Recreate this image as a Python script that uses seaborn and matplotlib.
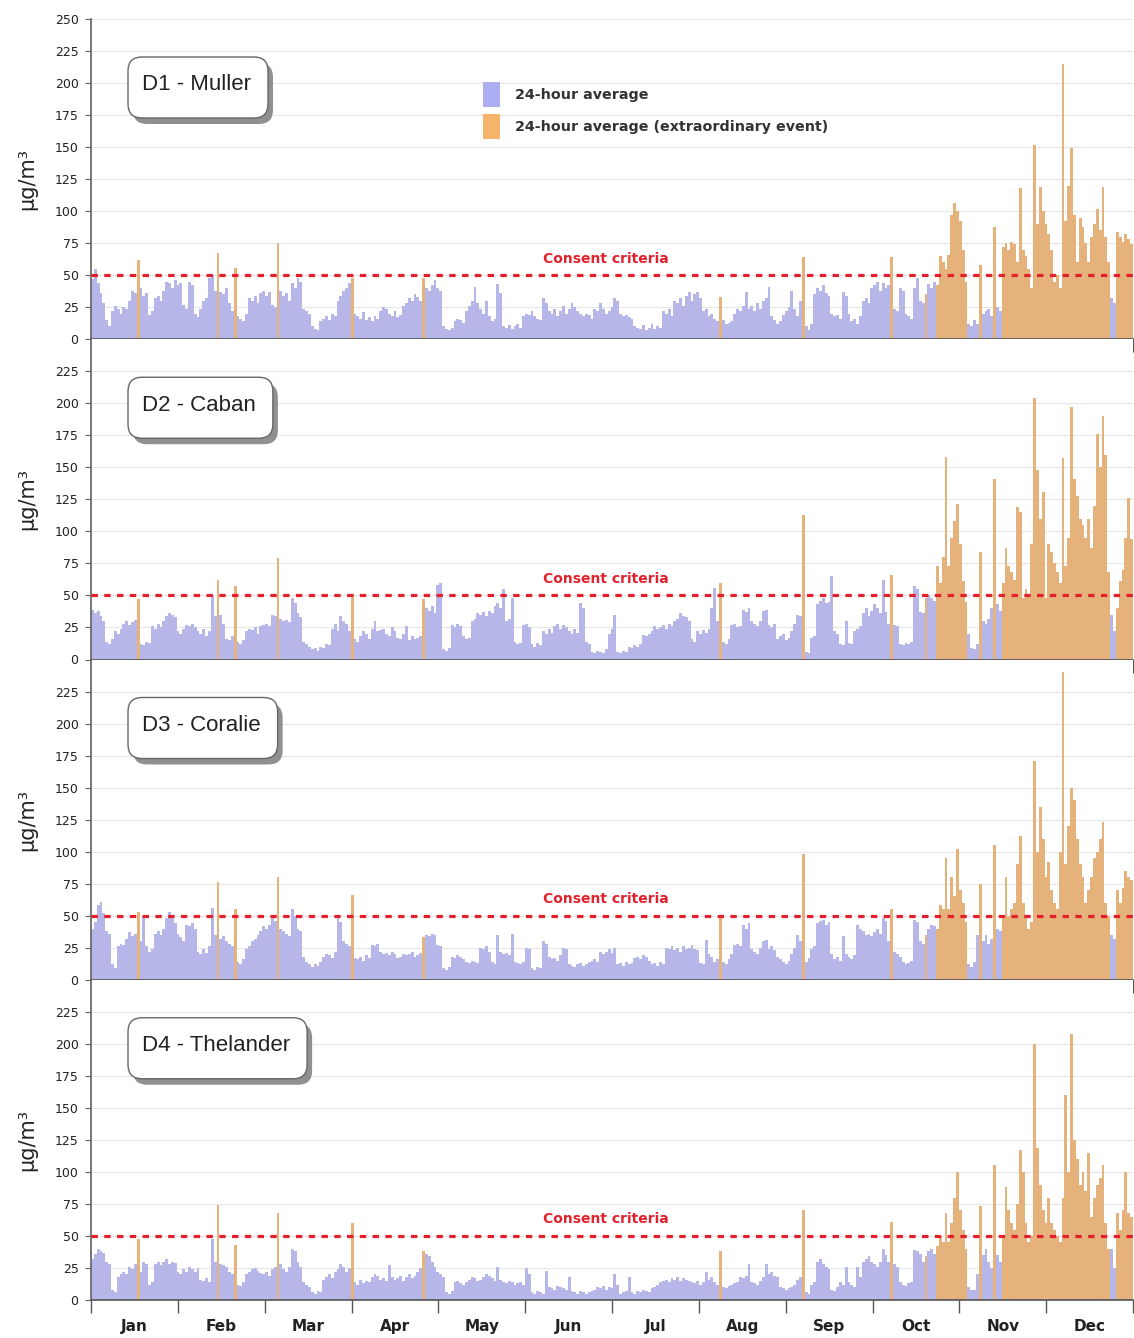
import numpy as np
import pandas as pd
import matplotlib
matplotlib.use("Agg")
import matplotlib.pyplot as plt
import seaborn as sns
from matplotlib.patches import FancyBboxPatch, Patch
from matplotlib.transforms import IdentityTransform

sns.set_theme(style="white")
plt.rcParams['font.family'] = ['DejaVu Sans']

W, H = 1134, 1338

months = ["Jan", "Feb", "Mar", "Apr", "May", "Jun",
          "Jul", "Aug", "Sep", "Oct", "Nov", "Dec"]
sites = ["D1 - Muller", "D2 - Caban", "D3 - Coralie", "D4 - Thelander"]
criteria = 50

# days (0 = 1 Jan) flagged as extraordinary event
event_days = ([16, 44, 50, 65, 91, 116, 220, 249, 280, 292]
              + list(range(296, 307)) + [311, 316]
              + list(range(319, 357)) + list(range(359, 365)))

# daily 24-hour averages, ug/m3, 10 days per row
d1_muller = [
    47, 55, 44, 36, 28, 15, 10, 22, 26, 24,
    20, 25, 24, 30, 38, 36, 62, 40, 34, 36,
    19, 22, 32, 34, 30, 38, 45, 44, 40, 46,
    42, 44, 27, 24, 45, 42, 20, 17, 24, 30,
    32, 48, 50, 38, 67, 37, 35, 40, 28, 22,
    56, 18, 16, 14, 20, 32, 30, 34, 28, 36,
    38, 34, 37, 27, 25, 75, 38, 34, 36, 30,
    44, 40, 48, 45, 24, 22, 20, 10, 8, 7,
    14, 16, 18, 15, 20, 18, 30, 34, 38, 40,
    44, 48, 20, 18, 16, 21, 15, 17, 14, 18,
    16, 22, 25, 24, 20, 18, 22, 17, 19, 26,
    28, 32, 30, 35, 33, 30, 48, 40, 38, 42,
    46, 40, 38, 10, 8, 7, 9, 14, 16, 15,
    13, 22, 26, 30, 41, 28, 24, 20, 30, 18,
    14, 16, 43, 36, 10, 9, 11, 8, 10, 12,
    9, 18, 20, 19, 22, 18, 16, 15, 32, 28,
    22, 20, 24, 18, 22, 26, 20, 24, 28, 25,
    22, 20, 18, 20, 19, 16, 24, 22, 28, 24,
    20, 22, 25, 32, 30, 20, 18, 19, 17, 16,
    10, 9, 8, 11, 7, 9, 12, 8, 10, 9,
    22, 20, 24, 18, 30, 28, 32, 26, 34, 37,
    30, 35, 37, 32, 22, 24, 18, 20, 16, 14,
    33, 15, 12, 13, 14, 20, 24, 22, 26, 37,
    24, 26, 22, 28, 24, 30, 32, 41, 18, 15,
    12, 14, 19, 22, 25, 38, 24, 18, 30, 64,
    10, 7, 12, 35, 40, 38, 42, 36, 34, 20,
    18, 19, 16, 37, 34, 20, 14, 16, 12, 18,
    30, 32, 28, 40, 42, 45, 38, 44, 40, 42,
    64, 24, 22, 40, 38, 20, 18, 16, 40, 48,
    30, 28, 35, 43, 40, 45, 42, 65, 60, 55,
    66, 97, 106, 100, 92, 70, 45, 12, 10, 15,
    12, 58, 20, 22, 24, 18, 88, 25, 22, 72,
    75, 70, 76, 74, 60, 118, 70, 65, 55, 40,
    152, 90, 119, 100, 90, 82, 70, 45, 50, 40,
    215, 92, 120, 149, 97, 60, 95, 88, 75, 60,
    80, 90, 102, 85, 119, 80, 60, 32, 28, 84,
    80, 76, 82, 78, 74,
]

d2_caban = [
    39, 36, 38, 34, 30, 14, 12, 16, 22, 20,
    24, 28, 30, 27, 29, 31, 47, 12, 11, 14,
    13, 26, 24, 28, 25, 30, 34, 36, 35, 33,
    22, 20, 24, 27, 26, 28, 25, 22, 20, 24,
    18, 22, 50, 34, 62, 35, 28, 16, 15, 18,
    57, 14, 12, 15, 22, 24, 23, 25, 20, 26,
    27, 28, 26, 35, 34, 79, 32, 30, 31, 29,
    48, 44, 36, 33, 14, 12, 10, 8, 9, 7,
    10, 9, 12, 11, 24, 28, 22, 34, 30, 28,
    22, 51, 16, 14, 18, 22, 20, 16, 24, 30,
    22, 23, 24, 20, 18, 25, 22, 17, 16, 20,
    26, 15, 18, 16, 17, 18, 47, 40, 38, 42,
    36, 58, 60, 8, 7, 9, 27, 25, 28, 26,
    18, 16, 17, 30, 32, 36, 35, 37, 34, 38,
    36, 42, 44, 40, 55, 30, 32, 48, 14, 12,
    13, 27, 28, 25, 12, 10, 13, 11, 22, 20,
    24, 21, 26, 28, 24, 27, 25, 22, 20, 24,
    21, 44, 40, 14, 12, 6, 5, 7, 6, 5,
    8, 20, 24, 35, 6, 5, 7, 6, 10, 9,
    11, 10, 12, 19, 18, 20, 22, 26, 24, 25,
    27, 24, 28, 26, 30, 32, 36, 34, 33, 30,
    16, 14, 22, 20, 23, 21, 24, 40, 56, 30,
    60, 14, 12, 16, 27, 28, 25, 26, 39, 37,
    40, 30, 28, 26, 30, 38, 39, 27, 25, 28,
    16, 18, 20, 15, 17, 22, 28, 35, 34, 113,
    6, 5, 17, 18, 43, 46, 48, 44, 45, 65,
    22, 20, 12, 11, 30, 13, 12, 22, 24, 26,
    36, 40, 34, 38, 43, 40, 36, 62, 37, 28,
    66, 27, 26, 12, 11, 13, 12, 14, 57, 55,
    37, 36, 48, 50, 48, 46, 73, 60, 80, 158,
    73, 95, 108, 121, 90, 61, 45, 20, 9, 8,
    12, 84, 30, 28, 32, 40, 141, 43, 38, 60,
    87, 73, 68, 62, 119, 115, 48, 55, 50, 90,
    204, 148, 110, 131, 48, 90, 84, 75, 68, 60,
    157, 73, 95, 197, 141, 128, 110, 105, 95, 110,
    87, 120, 176, 150, 190, 160, 68, 35, 22, 40,
    61, 70, 95, 126, 94,
]

d3_coralie = [
    40, 45, 58, 61, 52, 38, 36, 12, 9, 26,
    28, 27, 32, 37, 34, 36, 53, 30, 50, 26,
    22, 24, 36, 38, 35, 40, 48, 53, 50, 44,
    36, 33, 30, 43, 42, 44, 40, 22, 20, 24,
    21, 26, 56, 35, 76, 32, 34, 30, 28, 26,
    55, 14, 12, 16, 24, 26, 30, 32, 35, 38,
    42, 40, 43, 48, 46, 80, 40, 38, 36, 34,
    55, 50, 40, 38, 18, 14, 12, 10, 12, 11,
    14, 18, 20, 19, 17, 22, 50, 45, 30, 28,
    26, 66, 17, 16, 18, 15, 19, 17, 27, 26,
    28, 22, 20, 21, 19, 22, 20, 17, 18, 20,
    19, 20, 22, 18, 19, 21, 33, 35, 34, 36,
    35, 27, 26, 9, 8, 10, 18, 17, 19, 18,
    16, 14, 13, 15, 14, 13, 25, 24, 26, 22,
    14, 12, 35, 22, 20, 21, 19, 36, 14, 13,
    12, 14, 25, 24, 9, 8, 10, 9, 30, 28,
    18, 16, 17, 15, 19, 25, 24, 12, 11, 10,
    12, 13, 11, 12, 14, 15, 16, 14, 22, 20,
    22, 24, 21, 25, 12, 13, 11, 14, 12, 13,
    17, 18, 16, 19, 18, 15, 12, 13, 11, 14,
    12, 25, 24, 26, 23, 25, 22, 26, 24, 25,
    27, 24, 23, 13, 12, 31, 20, 18, 14, 16,
    50, 14, 12, 16, 20, 27, 28, 26, 43, 40,
    44, 24, 22, 20, 25, 30, 31, 24, 26, 23,
    18, 16, 14, 12, 15, 20, 25, 35, 30, 98,
    14, 17, 24, 26, 44, 46, 47, 43, 45, 20,
    16, 18, 15, 34, 20, 18, 16, 19, 43, 40,
    38, 35, 36, 34, 37, 40, 36, 48, 46, 30,
    55, 22, 20, 18, 14, 12, 13, 15, 47, 45,
    30, 28, 35, 40, 43, 42, 40, 58, 55, 95,
    55, 80, 65, 102, 70, 60, 45, 12, 10, 14,
    35, 75, 30, 35, 28, 32, 105, 40, 38, 50,
    80, 50, 55, 60, 90, 112, 60, 50, 40, 45,
    171, 100, 135, 110, 80, 92, 70, 60, 55, 100,
    240, 90, 120, 150, 140, 110, 90, 80, 60, 70,
    80, 95, 100, 110, 123, 60, 50, 35, 32, 70,
    60, 72, 85, 80, 78,
]

d4_thelander = [
    32, 36, 40, 38, 37, 30, 28, 8, 6, 18,
    20, 22, 20, 26, 24, 28, 48, 22, 30, 28,
    12, 14, 28, 30, 27, 30, 32, 28, 30, 29,
    22, 20, 24, 22, 26, 24, 22, 25, 16, 15,
    17, 14, 48, 30, 74, 28, 27, 26, 22, 20,
    43, 12, 11, 14, 20, 22, 24, 25, 23, 21,
    20, 22, 19, 24, 26, 68, 28, 24, 22, 26,
    40, 38, 30, 26, 14, 12, 10, 6, 5, 7,
    6, 16, 18, 20, 17, 22, 24, 28, 26, 22,
    25, 60, 14, 12, 16, 13, 15, 14, 18, 20,
    19, 16, 17, 15, 27, 18, 16, 17, 19, 15,
    18, 20, 17, 19, 22, 25, 38, 36, 34, 30,
    26, 22, 20, 18, 6, 5, 7, 14, 15, 13,
    12, 14, 16, 18, 17, 15, 16, 18, 20, 19,
    17, 15, 26, 16, 14, 13, 15, 14, 12, 13,
    14, 12, 25, 20, 6, 5, 7, 6, 5, 23,
    10, 9, 8, 11, 10, 9, 8, 18, 7, 6,
    5, 7, 6, 5, 6, 7, 8, 10, 9, 11,
    8, 10, 9, 20, 12, 5, 6, 7, 18, 6,
    5, 7, 6, 8, 7, 6, 9, 10, 12, 14,
    15, 16, 14, 17, 16, 18, 15, 17, 16, 15,
    14, 13, 15, 12, 14, 22, 16, 18, 14, 12,
    38, 10, 9, 11, 12, 13, 14, 18, 17, 19,
    28, 14, 13, 12, 15, 18, 28, 20, 22, 19,
    18, 10, 9, 8, 9, 10, 12, 16, 18, 70,
    6, 5, 12, 14, 30, 32, 28, 26, 24, 8,
    7, 10, 14, 12, 26, 14, 12, 10, 26, 18,
    30, 32, 34, 30, 28, 26, 30, 40, 35, 30,
    61, 28, 26, 14, 12, 11, 13, 14, 39, 38,
    36, 30, 34, 38, 40, 36, 42, 50, 45, 68,
    45, 60, 80, 100, 70, 55, 40, 10, 8, 8,
    20, 73, 35, 40, 30, 25, 105, 35, 30, 50,
    88, 70, 60, 55, 75, 117, 100, 60, 45, 50,
    200, 119, 90, 70, 60, 80, 60, 55, 50, 45,
    80, 160, 100, 208, 125, 110, 90, 100, 85, 115,
    65, 80, 90, 95, 105, 60, 40, 40, 25, 68,
    55, 70, 100, 68, 65,
]

PURPLE = "#adadf2"
ORANGE = "#f6b36b"
RED = "#e3202b"
palette = {"normal": PURPLE, "event": ORANGE}

fig, axes = plt.subplots(4, 1, figsize=(W / 100, H / 100), dpi=100)
fig.subplots_adjust(left=91 / W, right=1133 / W, bottom=38 / H, top=1 - 19 / H, hspace=0)

n_days = 365
days = np.arange(n_days)
bounds = np.arange(13) * n_days / 12 - 0.5
centers = (bounds[:-1] + bounds[1:]) / 2

for i, (ax, vals) in enumerate(zip(axes, [d1_muller, d2_caban, d3_coralie, d4_thelander])):
    df = pd.DataFrame({"day": days, "value": vals,
                       "kind": np.where(np.isin(days, event_days), "event", "normal")})
    sns.barplot(data=df, x="day", y="value", hue="kind", palette=palette,
                dodge=False, native_scale=True, width=1.0, linewidth=0,
                errorbar=None, legend=False, ax=ax)

    ax.set_xlim(-0.5, n_days - 0.5)
    ax.set_ylim(0, 250)
    top = 250 if i == 0 else 225
    ax.set_yticks(np.arange(0, top + 1, 25))
    ax.yaxis.grid(True, color="#e6e6e6", lw=0.8)
    ax.set_axisbelow(True)
    ax.axhline(criteria, color=RED, lw=2.3, ls=(0, (2, 2)), zorder=5)
    ax.text(180, 63, "Consent criteria", color=RED, fontsize=10,
            fontweight="bold", ha="center", va="center")

    for s in ["top", "right"]:
        ax.spines[s].set_visible(False)
    ax.spines["left"].set_color("#666")
    ax.spines["bottom"].set_color("#555")
    ax.spines["bottom"].set_linewidth(1.2)
    ax.tick_params(axis="y", left=True, length=4, width=0.8, color="#666",
                   labelsize=9, labelcolor="#222", pad=5)

    ax.set_xticks(bounds)
    ax.set_xticks(centers, minor=True)
    ax.tick_params(axis="x", which="major", bottom=True, length=9, width=1,
                   color="#555", labelbottom=False)
    ax.tick_params(axis="x", which="minor", bottom=True, length=0, pad=14,
                   labelsize=11, labelcolor="#222")
    if i == 3:
        ax.set_xticklabels(months, minor=True, fontweight="bold")
    else:
        ax.tick_params(axis="x", which="minor", labelbottom=False)
    ax.set_xlabel("")
    ax.set_ylabel("µg/m³", fontsize=15, color="#222")
    ax.yaxis.set_label_coords(-0.052, 0.5)

# legend in the top panel
handles = [Patch(facecolor=PURPLE, edgecolor="none", label="24-hour average"),
           Patch(facecolor=ORANGE, edgecolor="none", label="24-hour average (extraordinary event)")]
leg = axes[0].legend(handles=handles, loc="upper left", bbox_to_anchor=(0.376, 0.803),
                     frameon=False, handlelength=1.22, handleheight=2.28,
                     handletextpad=1.05, labelspacing=0.5, borderpad=0, borderaxespad=0,
                     prop={"weight": "bold", "size": 10.3})
for t in leg.get_texts():
    t.set_color("#333")

# site label boxes
fig.canvas.draw()
renderer = fig.canvas.get_renderer()
for ax, name in zip(axes, sites):
    top_px = ax.get_position().y1 * H
    box_top = top_px - 38
    box_h = 61
    t = fig.text(142, top_px - 66, name, fontsize=16, color="#222",
                 family="Liberation Sans", ha="left", va="center",
                 transform=IdentityTransform(), zorder=12)
    bb = t.get_window_extent(renderer=renderer)
    x0 = 128
    w = bb.x1 + 17 - x0
    shadow = FancyBboxPatch((x0 + 5, box_top - box_h - 6), w, box_h,
                            boxstyle="round,pad=0,rounding_size=14",
                            transform=IdentityTransform(), fc="#7d7d7d",
                            ec="none", alpha=0.85, zorder=10)
    box = FancyBboxPatch((x0, box_top - box_h), w, box_h,
                         boxstyle="round,pad=0,rounding_size=14",
                         transform=IdentityTransform(), fc="white",
                         ec="#666", lw=1.0, zorder=11)
    fig.add_artist(shadow)
    fig.add_artist(box)

fig.savefig("out.png", dpi=100, facecolor="white")
